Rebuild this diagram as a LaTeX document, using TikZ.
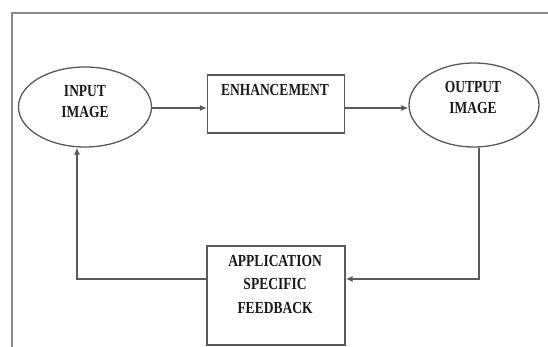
\documentclass[tikz,border=0pt]{standalone}
\usepackage{graphicx}
\usepackage{fontspec}
\setmainfont{Liberation Serif}
\usetikzlibrary{arrows.meta,shapes.geometric}
\definecolor{ln}{HTML}{5A5A5A}
\definecolor{fr}{HTML}{8A8A8A}
\newcommand{\stx}[2]{\scalebox{1}[1.25]{\begin{tabular}{@{}c@{}}\renewcommand{\arraystretch}{1}#2\end{tabular}}}
\tikzset{
  ell/.style={draw=ln,line width=1.3pt,ellipse,inner sep=0pt},
  bx/.style={draw=ln,line width=1.3pt,rectangle,inner sep=0pt},
  txt/.style={font=\bfseries\fontsize{13.5}{17}\selectfont,align=center,text=black!90,inner sep=0pt},
  arr/.style={draw=ln,line width=1.3pt,-{Latex[length=7pt,width=6pt]}},
}
\begin{document}
\begin{tikzpicture}[x=1pt,y=-1pt]
\useasboundingbox (0,0) rectangle (548,347);
\fill[white] (0,0) rectangle (548,347);
\draw[fr,line width=1.2pt] (12,347) -- (12,13) -- (548,13);
% shapes
\node[ell,minimum width=133pt,minimum height=80pt] (in) at (85,107) {};
\node[txt] (intext) at (85,103) {\stx{}{INPUT\\IMAGE}};
\node[bx,minimum width=137pt,minimum height=58pt] (enh) at (276,104) {};
\node[txt] (enhtext) at (275,91) {\stx{}{ENHANCEMENT}};
\node[ell,minimum width=130pt,minimum height=84pt] (out) at (474,105) {};
\node[txt] (outtext) at (473,99) {\stx{}{OUTPUT\\IMAGE}};
\node[bx,minimum width=138pt,minimum height=99pt] (fb) at (276,295.5) {};
\node[txt,font=\bfseries\fontsize{13.5}{19}\selectfont] (fbtext) at (275,285) {\stx{}{APPLICATION\\SPECIFIC\\FEEDBACK}};
\coordinate (fbline) at (0,279);
\coordinate (mainline) at (0,108);
% connectors
\draw[arr] (in.east |- mainline) -- (enh.west |- mainline);
\draw[arr] (enh.east |- mainline) -- (out.west |- mainline);
\draw[arr] ([xshift=5pt]out.south) |- (fb.east |- fbline);
\draw[arr] (fb.west |- fbline) -| ([xshift=-8pt]in.south);
\end{tikzpicture}
\end{document}
